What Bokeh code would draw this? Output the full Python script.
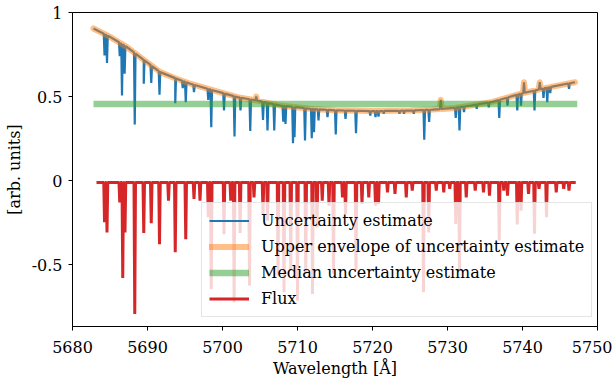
import numpy as np
from bokeh.plotting import figure
from bokeh.models import Legend, LegendItem, FixedTicker
from bokeh.embed import file_html
from bokeh.resources import INLINE

# ---- data ----
# continuum (upper level) of the uncertainty estimate
unc_cont_wl = [5682.8, 5685.0, 5687.3, 5689.5, 5691.7, 5693.7, 5695.7, 5698.8, 5702.0,
               5704.6, 5707.7, 5711.7, 5715.0, 5720.0, 5725.0, 5728.0, 5731.0, 5733.1,
               5736.0, 5739.7, 5743.0, 5747.0]
unc_cont_val = [0.905, 0.855, 0.793, 0.718, 0.645, 0.609, 0.576, 0.536, 0.496,
                0.476, 0.446, 0.427, 0.418, 0.413, 0.416, 0.422, 0.432, 0.446,
                0.468, 0.516, 0.55, 0.585]

# dips of the uncertainty estimate (line centre, bottom value)
unc_dip_wl = [5684.27, 5684.6, 5686.3, 5686.6, 5686.95, 5688.3, 5689.5, 5690.5, 5691.6,
              5693.7, 5694.7, 5695.1, 5696.2, 5698.1, 5698.5, 5700.2, 5701.6, 5702.4,
              5703.7, 5705.4, 5706.0, 5706.9, 5708.1, 5708.4, 5709.4, 5709.6, 5711.0,
              5711.9, 5712.2, 5712.8, 5714.0, 5715.1, 5716.4, 5717.8, 5719.7, 5720.4,
              5720.8, 5721.5, 5723.6, 5724.2, 5725.5, 5726.9, 5727.55, 5731.1, 5731.6,
              5732.2, 5733.9, 5735.5, 5736.9, 5738.0, 5739.3, 5739.8, 5741.6, 5742.8,
              5743.3, 5743.7, 5746.2]
unc_dip_val = [0.744, 0.70, 0.74, 0.506, 0.635, 0.333, 0.576, 0.58, 0.51,
               0.46, 0.55, 0.466, 0.526, 0.48, 0.317, 0.417, 0.262, 0.417,
               0.295, 0.36, 0.298, 0.298, 0.35, 0.337, 0.222, 0.258, 0.238,
               0.252, 0.288, 0.357, 0.377, 0.274, 0.367, 0.282, 0.387, 0.377,
               0.38, 0.397, 0.397, 0.397, 0.397, 0.242, 0.348, 0.373, 0.298,
               0.407, 0.427, 0.436, 0.373, 0.446, 0.417, 0.446, 0.417, 0.492,
               0.466, 0.52, 0.546]

# upward bumps (seen in uncertainty and its upper envelope)
bump_wl = [5704.5, 5729.1, 5740.2, 5742.3]
bump_val = [0.50, 0.48, 0.585, 0.585]

# median uncertainty
median_val = 0.455
median_wl = [5682.8, 5747.3]

# flux continuum and absorption lines
flux_cont_wl = [5683.2, 5747.1]
flux_cont_val = [-0.012, -0.012]
flux_dip_wl = [5684.27, 5684.6, 5686.3, 5686.7, 5687.0, 5688.3, 5689.5, 5690.5, 5691.6,
               5692.8, 5693.7, 5695.1, 5696.2, 5697.0, 5698.1, 5698.5, 5700.2, 5701.1,
               5701.55, 5702.35, 5703.6, 5704.2, 5705.4, 5706.0, 5707.4, 5708.2, 5709.1,
               5710.0, 5711.1, 5712.0, 5712.6, 5713.3, 5714.2, 5714.8, 5716.0, 5716.4,
               5717.8, 5718.6, 5719.5, 5720.4, 5720.8, 5722.0, 5723.0, 5724.5, 5725.3,
               5726.8, 5727.5, 5728.5, 5729.5, 5730.3, 5731.1, 5731.6, 5732.5, 5733.7,
               5734.8, 5735.6, 5736.9, 5737.5, 5738.0, 5739.3, 5739.8, 5740.8, 5741.6,
               5742.2, 5743.2, 5744.5, 5745.5, 5746.2]
flux_dip_val = [-0.248, -0.31, -0.13, -0.58, -0.31, -0.794, -0.313, -0.254, -0.38,
                -0.12, -0.427, -0.35, -0.11, -0.12, -0.218, -0.645, -0.32, -0.12,
                -0.724, -0.313, -0.625, -0.10, -0.20, -0.24, -0.565, -0.665, -0.536,
                -0.714, -0.555, -0.675, -0.28, -0.12, -0.15, -0.555, -0.10, -0.20,
                -0.536, -0.14, -0.10, -0.15, -0.14, -0.07, -0.08, -0.10, -0.06,
                -0.665, -0.31, -0.06, -0.07, -0.05, -0.258, -0.526, -0.10, -0.06,
                -0.07, -0.09, -0.357, -0.06, -0.09, -0.262, -0.18, -0.08, -0.317,
                -0.05, -0.218, -0.07, -0.05, -0.06]

x_ticks = [5680, 5690, 5700, 5710, 5720, 5730, 5740, 5750]
y_ticks = [-0.5, 0, 0.5, 1]
y_tick_labels = ["-0.5", "0", "0.5", "1"]

FONT = "DejaVu Serif"


def spectrum(cwl, cval, lwl, lval, hw):
    """polyline vertices: continuum knots plus a narrow V for each line"""
    xs = list(cwl)
    ys = list(cval)
    for c, v in zip(lwl, lval):
        for d in (-hw, hw):
            xs.append(c + d)
            ys.append(float(np.interp(c + d, cwl, cval)))
        xs.append(c)
        ys.append(v)
    order = np.argsort(xs, kind="stable")
    return np.asarray(xs)[order], np.asarray(ys)[order]


ux, uy = spectrum(unc_cont_wl, unc_cont_val,
                  unc_dip_wl + bump_wl, unc_dip_val + bump_val, 0.1)
ex, ey = spectrum(unc_cont_wl, unc_cont_val, bump_wl, bump_val, 0.15)
fx, fy = spectrum(flux_cont_wl, flux_cont_val, flux_dip_wl, flux_dip_val, 0.1)

p = figure(width=612, height=380,
           x_range=(5680, 5750), y_range=(-0.869, 1.0),
           output_backend="svg", toolbar_location=None,
           min_border_left=72, min_border_right=15, min_border_top=12,
           min_border_bottom=54)
p.background_fill_color = "white"
p.border_fill_color = "white"
p.outline_line_color = "black"
p.outline_line_width = 1
p.xgrid.visible = False
p.ygrid.visible = False

r_unc = p.line(ux, uy, line_color="#1f77b4", line_width=2.2)
r_env = p.line(ex, ey, line_color="#ff7f0e", line_alpha=0.5, line_width=6,
               line_cap="round", line_join="round")
r_med = p.line(median_wl, [median_val, median_val], line_color="#2ca02c",
               line_alpha=0.5, line_width=6.5)
r_flux = p.line(fx, fy, line_color="#d62728", line_width=3)

for ax in (p.xaxis[0], p.yaxis[0]):
    ax.axis_line_color = "black"
    ax.axis_line_width = 1
    ax.major_tick_line_color = "black"
    ax.major_tick_out = 4
    ax.major_tick_in = 0
    ax.minor_tick_line_color = None
    ax.major_label_text_font = FONT
    ax.major_label_text_font_size = "16px"
    ax.major_label_text_color = "black"
    ax.axis_label_text_font = FONT
    ax.axis_label_text_font_size = "16px"
    ax.axis_label_text_font_style = "normal"
    ax.axis_label_text_color = "black"

p.xaxis.ticker = FixedTicker(ticks=x_ticks)
p.xaxis.axis_label = "Wavelength [Å]"
p.xaxis.major_label_standoff = 10
p.xaxis.axis_label_standoff = 3

p.yaxis.ticker = FixedTicker(ticks=y_ticks)
p.yaxis.major_label_overrides = {t: l for t, l in zip(y_ticks, y_tick_labels)}
p.yaxis.axis_label = "[arb. units]"
p.yaxis.major_label_standoff = 6
p.yaxis.axis_label_standoff = 5

legend = Legend(items=[
    LegendItem(label="Uncertainty estimate", renderers=[r_unc]),
    LegendItem(label="Upper envelope of uncertainty estimate", renderers=[r_env]),
    LegendItem(label="Median uncertainty estimate", renderers=[r_med]),
    LegendItem(label="Flux", renderers=[r_flux]),
], location=(129, 9))
legend.margin = 0
legend.padding = 7
legend.spacing = 5
legend.glyph_width = 40
legend.glyph_height = 21
legend.label_height = 21
legend.label_standoff = 12
legend.label_text_font = FONT
legend.label_text_font_size = "16px"
legend.label_text_color = "black"
legend.background_fill_color = "white"
legend.background_fill_alpha = 0.8
legend.border_line_color = "#cccccc"
legend.border_line_width = 1
p.add_layout(legend)

open("out.html", "w").write(file_html(p, INLINE))
